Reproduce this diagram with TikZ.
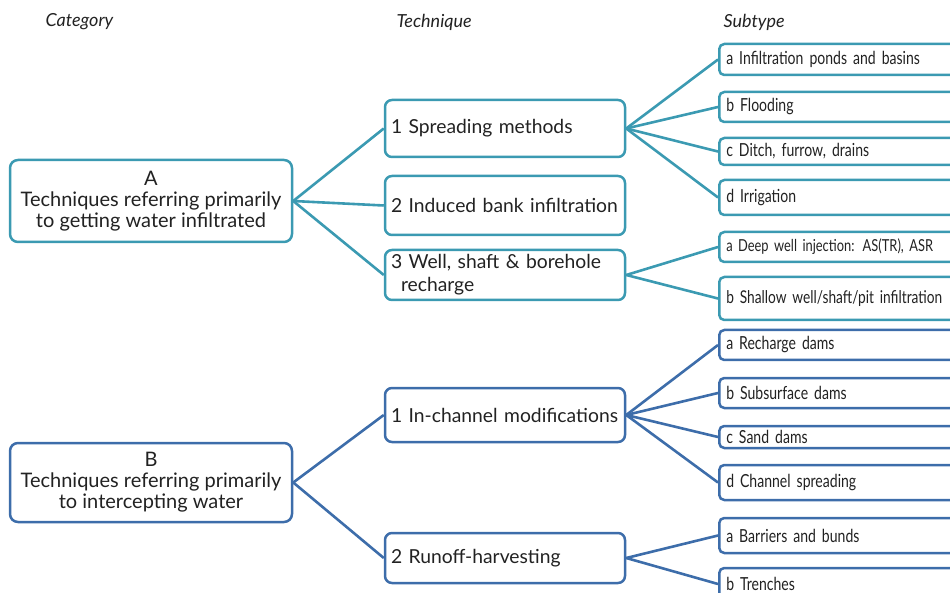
\documentclass[tikz,border=0pt]{standalone}
\usepackage{fontspec}
\setmainfont{Lato}
\newfontfamily\narrowfont[FakeStretch=0.78]{Lato}
\definecolor{tealc}{HTML}{3B9AB2}
\definecolor{bluec}{HTML}{3D6DAA}
\definecolor{txt}{HTML}{222222}
\begin{document}
\begin{tikzpicture}[x=1pt,y=-1pt,
  cat/.style={draw, line width=2.5pt, rounded corners=8pt, fill=white, minimum width=282pt, align=center, text=txt, font=\fontsize{20}{21}\selectfont, inner sep=0pt},
  tech/.style={draw, line width=2.5pt, rounded corners=7pt, fill=white, minimum width=240pt, text width=228pt, align=left, inner xsep=6pt, inner ysep=0pt, text=txt, font=\fontsize{19.3}{23}\selectfont},
  sub/.style={draw, line width=2.5pt, rounded corners=5pt, fill=white, anchor=west, minimum width=262pt, text width=248pt, align=left, inner xsep=7pt, inner ysep=0pt, text=txt, font=\narrowfont\fontsize{18}{19}\selectfont},
  hdr/.style={anchor=west, text=txt, font=\itshape\fontsize{18}{20}\selectfont},
  ca/.style={draw=tealc}, cb/.style={draw=bluec},
  conn/.style={line width=2.6pt}]
\useasboundingbox (0,0) rectangle (950,593);
\clip (0,0) rectangle (950,593);

\node[hdr] (h1) at (42,22) {Category};
\node[hdr] (h2) at (393,22) {Technique};
\node[hdr] (h3) at (720,22) {Subtype};

% category boxes
\node[cat, ca, minimum height=82pt] (A) at (151,201) {A\\Techniques referring primarily\\to getting water infiltrated};
\node[cat, cb, minimum height=79pt] (B) at (151,482.5) {B\\Techniques referring primarily\\to intercepting water};

% technique boxes
\node[tech, ca, minimum height=57pt] (t1) at (505,128.5) {\mbox{1 Spreading methods}};
\node[tech, ca, minimum height=59pt] (t2) at (505,205.5) {\mbox{2 Induced bank infiltration}};
\node[tech, ca, minimum height=50pt] (t3) at (505,275) {\mbox{3 Well, shaft \& borehole}\\\mbox{\hspace*{10pt}recharge}};
\node[tech, cb, minimum height=54pt] (t4) at (505,415) {\mbox{1 In-channel modifications}};
\node[tech, cb, minimum height=50pt] (t5) at (505,558) {\mbox{2 Runoff-harvesting}};

% subtype boxes
\node[sub, ca, minimum height=31pt] (s1a) at (718,59.5) {\mbox{a Infiltration ponds and basins}};
\node[sub, ca, minimum height=30pt] (s1b) at (718,107) {\mbox{b Flooding}};
\node[sub, ca, minimum height=27pt] (s1c) at (718,151.5) {\mbox{c Ditch, furrow, drains}};
\node[sub, ca, minimum height=35pt] (s1d) at (718,197.5) {\mbox{d Irrigation}};
\node[sub, ca, minimum height=30pt, font=\narrowfont\fontsize{16.5}{19}\selectfont] (s3a) at (718,247) {\mbox{a Deep well injection: AS(TR), ASR}};
\node[sub, ca, minimum height=43pt, font=\narrowfont\fontsize{17.6}{19}\selectfont] (s3b) at (718,298.5) {\mbox{b Shallow well/shaft/pit infiltration}};
\node[sub, cb, minimum height=30pt] (s4a) at (718,345) {\mbox{a Recharge dams}};
\node[sub, cb, minimum height=30pt] (s4b) at (718,393) {\mbox{b Subsurface dams}};
\node[sub, cb, minimum height=22pt] (s4c) at (718,437) {\mbox{c Sand dams}};
\node[sub, cb, minimum height=35pt] (s4d) at (718,482.5) {\mbox{d Channel spreading}};
\node[sub, cb, minimum height=35pt] (s5a) at (718,535.5) {\mbox{a Barriers and bunds}};
\node[sub, cb, minimum height=32pt] (s5b) at (718,584) {\mbox{b Trenches}};

% connectors
\foreach \t in {t1,t2,t3} \draw[conn, tealc] (A.east) -- (\t.west);
\foreach \t in {t4,t5} \draw[conn, bluec] (B.east) -- (\t.west);
\foreach \s in {s1a,s1b,s1c,s1d} \draw[conn, tealc] (t1.east) -- (\s.west);
\foreach \s in {s3a,s3b} \draw[conn, tealc] (t3.east) -- (\s.west);
\foreach \s in {s4a,s4b,s4c,s4d} \draw[conn, bluec] (t4.east) -- (\s.west);
\foreach \s in {s5a,s5b} \draw[conn, bluec] (t5.east) -- (\s.west);
\end{tikzpicture}
\end{document}
